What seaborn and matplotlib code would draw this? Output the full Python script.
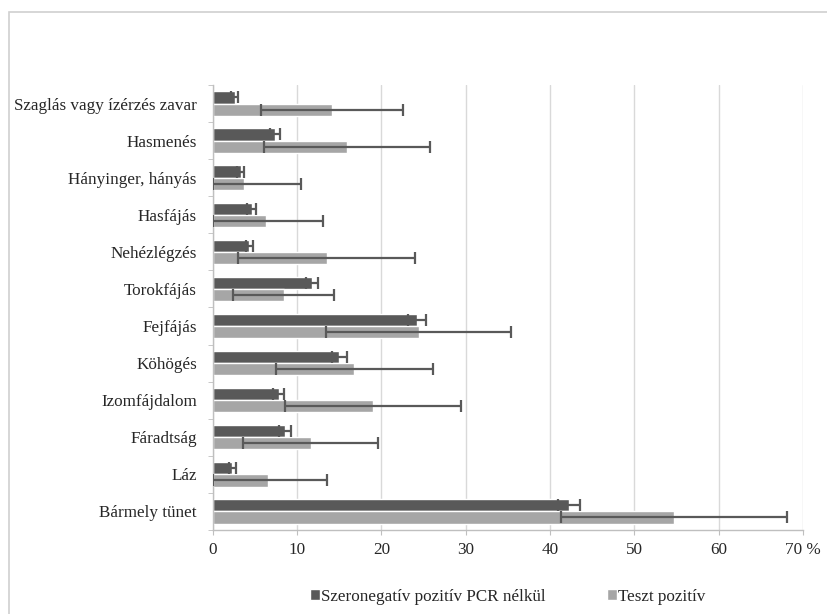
import pandas as pd
import numpy as np
import seaborn as sns
import matplotlib.pyplot as plt
from matplotlib.ticker import FixedLocator

# Tünetek (fentről lefelé)
symptoms = ["Szaglás vagy ízérzés zavar", "Hasmenés", "Hányinger, hányás", "Hasfájás",
            "Nehézlégzés", "Torokfájás", "Fejfájás", "Köhögés", "Izomfájdalom",
            "Fáradtság", "Láz", "Bármely tünet"]
groups = ["Szeronegatív pozitív PCR nélkül", "Teszt pozitív"]

# Szeronegatív pozitív PCR nélkül (%)
seroneg = [2.6, 7.4, 3.3, 4.6, 4.35, 11.8, 24.2, 15.0, 7.8, 8.6, 2.3, 42.2]
seroneg_err = [0.4, 0.6, 0.4, 0.5, 0.45, 0.7, 1.1, 0.9, 0.7, 0.7, 0.4, 1.3]

# Teszt pozitív (%)
positive = [14.1, 15.9, 3.7, 6.3, 13.5, 8.4, 24.4, 16.8, 19.0, 11.6, 6.5, 54.7]
positive_err = [8.4, 9.8, 6.8, 6.8, 10.5, 6.0, 11.0, 9.3, 10.4, 8.0, 7.0, 13.4]

x_ticks = [0, 10, 20, 30, 40, 50, 60, 70]
x_labels = ["0", "10", "20", "30", "40", "50", "60", "70 %"]

dark = "#595959"
light = "#A6A6A6"
fs = 12.3

df = pd.DataFrame({
    "symptom": symptoms * 2,
    "value": seroneg + positive,
    "group": [groups[0]] * len(symptoms) + [groups[1]] * len(symptoms),
})

sns.set_style("white")
plt.rcParams["font.family"] = ["Liberation Serif", "DejaVu Serif"]
plt.rcParams["font.size"] = fs

fig = plt.figure(figsize=(8.28, 6.14), dpi=100)
ax = fig.add_axes([0.257, 0.137, 0.713, 0.7246])

width = 0.66
sns.barplot(data=df, y="symptom", x="value", hue="group", order=symptoms,
            hue_order=groups, palette=[dark, light], width=width, saturation=1,
            errorbar=None, ax=ax, zorder=2)

# hibasávok (alul 0-nál levágva)
pos = np.arange(len(symptoms))
off = width / 4
for vals, errs, shift in [(seroneg, seroneg_err, -off), (positive, positive_err, off)]:
    vals = np.array(vals)
    errs = np.array(errs)
    lower = np.minimum(errs, vals)
    ax.errorbar(vals, pos + shift, xerr=[lower, errs], fmt="none", ecolor=dark,
                elinewidth=1.6, capsize=4, capthick=1.6, zorder=3)

ax.set_xlim(0, 70)
ax.set_ylim(len(symptoms) - 0.5, -0.5)
ax.set_xticks(x_ticks)
ax.set_xticklabels(x_labels)
ax.xaxis.grid(True, color="#D9D9D9", lw=1)
ax.set_axisbelow(True)
ax.set_xlabel("")
ax.set_ylabel("")

ax.yaxis.set_minor_locator(FixedLocator(np.arange(-0.5, len(symptoms), 1)))
ax.tick_params(axis="y", which="major", length=0, pad=11.5, labelsize=fs)
ax.tick_params(axis="y", which="minor", length=3.5, color="#BFBFBF", left=True)
ax.tick_params(axis="x", length=3.5, color="#BFBFBF", bottom=True, pad=5, labelsize=fs)

for s in ["top", "right"]:
    ax.spines[s].set_visible(False)
for s in ["left", "bottom"]:
    ax.spines[s].set_color("#BFBFBF")
    ax.spines[s].set_linewidth(1)

sns.move_legend(ax, "center", bbox_to_anchor=(0.5, -0.15), ncol=2, frameon=False,
                title=None, handlelength=0.55, handleheight=0.55, handletextpad=0.1,
                columnspacing=3.6, fontsize=fs)

# külső keret
fig.add_artist(plt.Rectangle((0.0109, -0.1), 1.2, 1.0805, fill=False,
                             edgecolor="#D0D0D0", lw=1.2, transform=fig.transFigure))

fig.savefig("out.png", dpi=100, facecolor="white")
